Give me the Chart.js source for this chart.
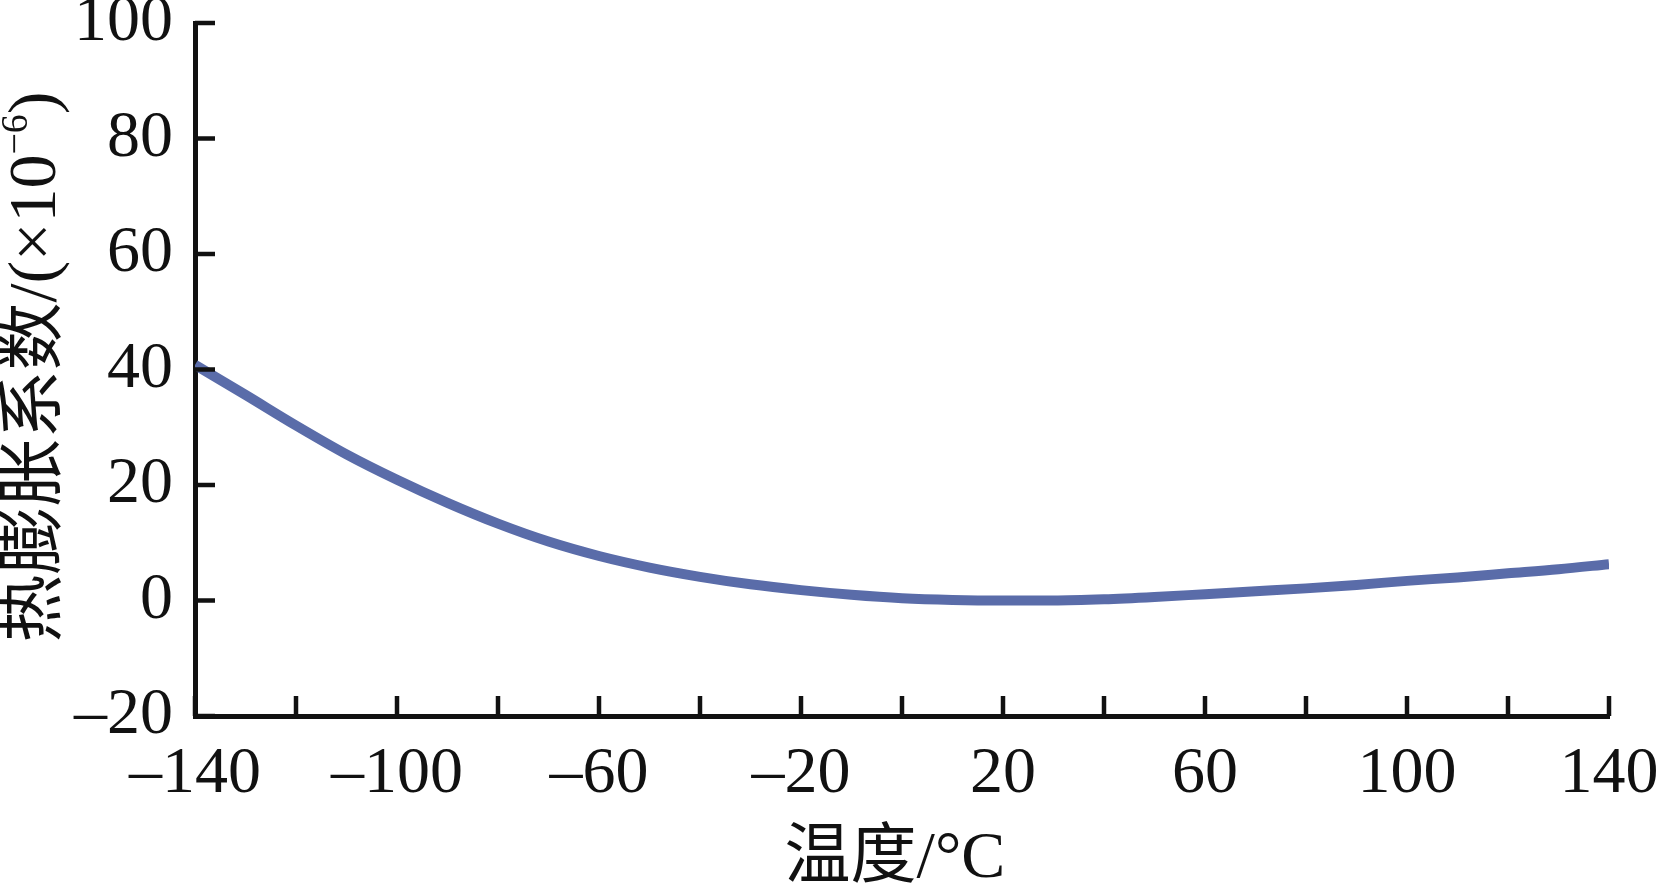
<!DOCTYPE html>
<html>
<head>
<meta charset="utf-8">
<script src="https://cdn.jsdelivr.net/npm/chart.js@4"></script>
<style>
  html, body { margin: 0; padding: 0; background: #fff; }
</style>
</head>
<body>
<canvas id="chart" width="1657" height="884"></canvas>
<script>
// values
const temperatures = [-140, -130, -120, -110, -100, -90, -80, -70, -60, -50, -40, -30, -20, -10,
  0, 10, 20, 30, 40, 50, 60, 70, 80, 90, 100, 110, 120, 130, 140];
const expansion = [40.8, 35.6, 30.3, 25.3, 20.9, 16.9, 13.3, 10.2, 7.7, 5.7, 4.1, 2.8, 1.8, 1.0,
  0.4, 0.1, 0.0, 0.0, 0.2, 0.6, 1.1, 1.6, 2.1, 2.7, 3.4, 4.0, 4.7, 5.4, 6.3];
const xLabelValues = [-140, -100, -60, -20, 20, 60, 100, 140];
const yTickValues = [-20, 0, 20, 40, 60, 80, 100];

const xTitle = '温度/°C';
const yTitleMain = '热膨胀系数/(×10';
const yTitleSup = '−6';
const yTitleEnd = ')';

const serif = "'Liberation Serif', 'Times New Roman', serif";
const titleFont = "'Liberation Serif', 'Noto Sans CJK SC', serif";
const ink = '#111';

const fmt = v => (v < 0 ? '–' + Math.abs(v) : String(v));

// ticks point into the plot, so they are drawn here instead of by the scale
const inwardTicks = {
  id: 'inwardTicks',
  afterDraw(chart) {
    const { ctx, chartArea, scales } = chart;
    ctx.save();
    ctx.strokeStyle = ink;
    ctx.lineWidth = 4.5;
    scales.x.ticks.forEach(t => {
      const px = scales.x.getPixelForValue(t.value);
      ctx.beginPath();
      ctx.moveTo(px, chartArea.bottom);
      ctx.lineTo(px, chartArea.bottom - 20);
      ctx.stroke();
    });
    scales.y.ticks.forEach(t => {
      const py = scales.y.getPixelForValue(t.value);
      ctx.beginPath();
      ctx.moveTo(chartArea.left, py);
      ctx.lineTo(chartArea.left + 20, py);
      ctx.stroke();
    });
    ctx.restore();
  }
};

const axisTitles = {
  id: 'axisTitles',
  afterDraw(chart) {
    const { ctx } = chart;
    ctx.save();
    ctx.fillStyle = ink;
    ctx.textBaseline = 'middle';

    // x title
    ctx.font = '66px ' + titleFont;
    ctx.textAlign = 'center';
    ctx.fillText(xTitle, 895, 860);

    // y title, rotated, with superscript exponent
    ctx.translate(37, 367);
    ctx.rotate(-Math.PI / 2);
    ctx.textAlign = 'left';
    const big = '68px ' + titleFont;
    const small = '38px ' + titleFont;
    ctx.font = big;
    const w1 = ctx.measureText(yTitleMain).width;
    const w3 = ctx.measureText(yTitleEnd).width;
    ctx.font = small;
    const w2 = ctx.measureText(yTitleSup).width;
    let x = -(w1 + w2 + w3) / 2;
    ctx.font = big;
    ctx.fillText(yTitleMain, x, 0);
    x += w1;
    ctx.font = small;
    ctx.fillText(yTitleSup, x, -20);
    x += w2;
    ctx.font = big;
    ctx.fillText(yTitleEnd, x, 0);
    ctx.restore();
  }
};

new Chart(document.getElementById('chart').getContext('2d'), {
  type: 'line',
  data: {
    datasets: [{
      data: temperatures.map((t, i) => ({ x: t, y: expansion[i] })),
      borderColor: '#5a6ca9',
      borderWidth: 10,
      pointRadius: 0,
      cubicInterpolationMode: 'monotone',
      fill: false
    }]
  },
  options: {
    responsive: false,
    animation: false,
    devicePixelRatio: 1,
    layout: { padding: { top: 23, right: 48, left: 0, bottom: 0 } },
    plugins: { legend: { display: false }, tooltip: { enabled: false } },
    scales: {
      x: {
        type: 'linear',
        min: -140,
        max: 140,
        grid: { display: true, drawOnChartArea: false, drawTicks: false },
        border: { display: true, color: ink, width: 5 },
        ticks: {
          stepSize: 20,
          autoSkip: false,
          maxRotation: 0,
          padding: 19,
          color: ink,
          font: { family: serif, size: 66 },
          callback: v => (xLabelValues.includes(v) ? fmt(v) : '')
        },
        afterFit: s => { s.height = 168; s.paddingLeft = 0; s.paddingRight = 0; }
      },
      y: {
        min: -20,
        max: 100,
        grid: { display: true, drawOnChartArea: false, drawTicks: false },
        border: { display: true, color: ink, width: 5 },
        ticks: {
          stepSize: 20,
          padding: 22,
          color: ink,
          font: { family: serif, size: 66 },
          callback: v => (yTickValues.includes(v) ? fmt(v) : '')
        },
        afterFit: s => { s.width = 195; s.paddingTop = 0; s.paddingBottom = 0; }
      }
    }
  },
  plugins: [inwardTicks, axisTitles]
});
</script>
</body>
</html>
